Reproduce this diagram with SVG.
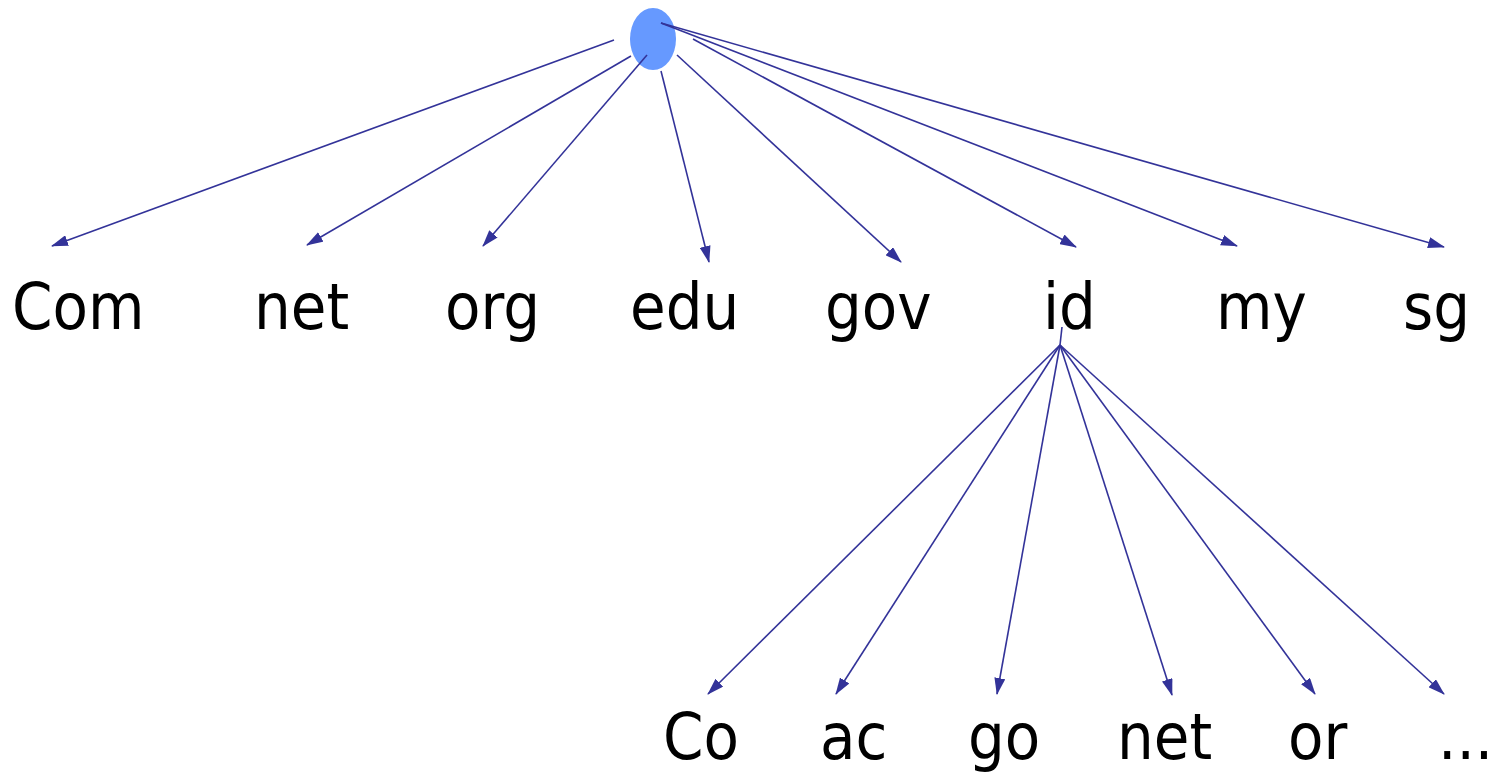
<svg xmlns="http://www.w3.org/2000/svg" width="1509" height="773" viewBox="0 0 1509 773">
<style>
text{font-family:"DejaVu Sans",sans-serif;font-size:58px;fill:#000}
.e{stroke:#333399;stroke-width:1.6;fill:none;marker-end:url(#ah)}
</style>
<defs>
<marker id="ah" viewBox="0 0 17 11" refX="16" refY="5.5" markerWidth="17" markerHeight="11" markerUnits="userSpaceOnUse" orient="auto">
<path d="M0,0 L17,5.5 L0,11 Z" fill="#333399"/>
</marker>
</defs>
<rect width="1509" height="773" fill="#fff"/>
<g id="root"><ellipse cx="653" cy="39" rx="23" ry="31" fill="#6699FF"/></g>
<g id="connectors">
<line class="e" x1="614" y1="40" x2="52" y2="246"/>
<line class="e" x1="631" y1="56" x2="307" y2="245"/>
<line class="e" x1="647" y1="55" x2="483" y2="246"/>
<line class="e" x1="661" y1="71" x2="709" y2="262"/>
<line class="e" x1="677" y1="55" x2="901" y2="262"/>
<line class="e" x1="693" y1="39" x2="1076" y2="247"/>
<line class="e" x1="661" y1="23" x2="1237" y2="246"/>
<line class="e" x1="661" y1="23" x2="1444" y2="247"/>
<line stroke="#333399" stroke-width="1.6" x1="1062" y1="327" x2="1060" y2="345"/>
<line class="e" x1="1060" y1="345" x2="708" y2="694"/>
<line class="e" x1="1060" y1="345" x2="836" y2="694"/>
<line class="e" x1="1060" y1="345" x2="997" y2="694"/>
<line class="e" x1="1060" y1="345" x2="1172" y2="695"/>
<line class="e" x1="1060" y1="345" x2="1315" y2="694"/>
<line class="e" x1="1060" y1="345" x2="1444" y2="694"/>
</g>
<g id="n-com" transform="translate(12,329) scale(1,1.09)"><text>Com</text></g>
<g id="n-net" transform="translate(254,329) scale(1,1.09)"><text>net</text></g>
<g id="n-org" transform="translate(445,329) scale(1,1.09)"><text>org</text></g>
<g id="n-edu" transform="translate(630,329) scale(1,1.09)"><text>edu</text></g>
<g id="n-gov" transform="translate(825,329) scale(1,1.09)"><text>gov</text></g>
<g id="n-id" transform="translate(1043,329) scale(1,1.09)"><text>id</text></g>
<g id="n-my" transform="translate(1216,329) scale(1,1.09)"><text>my</text></g>
<g id="n-sg" transform="translate(1403,329) scale(1,1.09)"><text>sg</text></g>
<g id="n-co" transform="translate(663,759) scale(1,1.09)"><text>Co</text></g>
<g id="n-ac" transform="translate(820,759) scale(1,1.09)"><text>ac</text></g>
<g id="n-go" transform="translate(968,759) scale(1,1.09)"><text>go</text></g>
<g id="n-net2" transform="translate(1117,759) scale(1,1.09)"><text>net</text></g>
<g id="n-or" transform="translate(1288,759) scale(1,1.09)"><text>or</text></g>
<g id="n-more" transform="translate(1438,759) scale(1,1.09)"><text>...</text></g>
</svg>
